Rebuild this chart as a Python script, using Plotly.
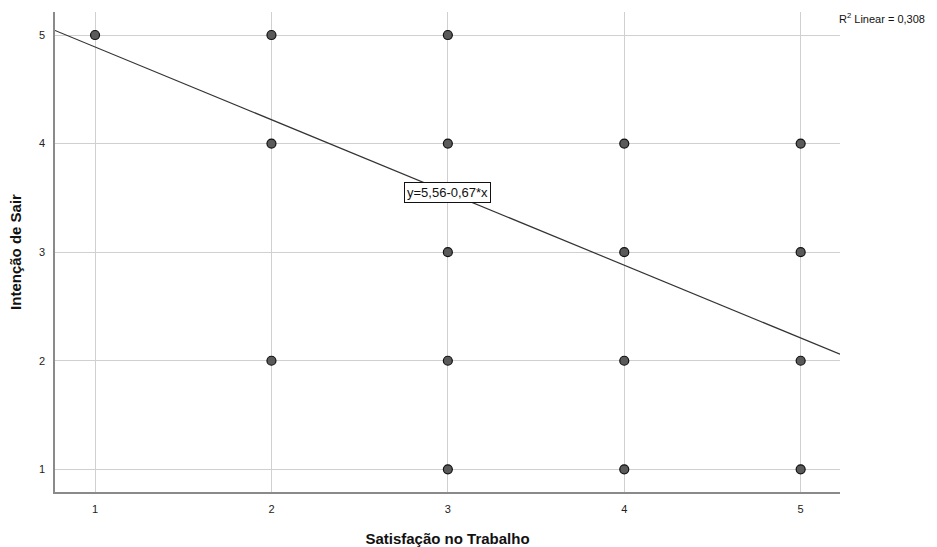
import plotly.graph_objects as go

satisfacao = [1, 2, 2, 2, 3, 3, 3, 3, 3, 4, 4, 4, 4, 5, 5, 5, 5]
intencao = [5, 5, 4, 2, 5, 4, 3, 2, 1, 4, 3, 2, 1, 4, 3, 2, 1]
intercept = 5.56
slope = -0.67
r2 = "0,308"
x_range = [0.773, 5.223]
y_range = [0.791, 5.212]
ticks = [1, 2, 3, 4, 5]

font_family = "Arial, Liberation Sans, sans-serif"

fig = go.Figure()
fig.add_trace(go.Scatter(
    x=x_range, y=[intercept + slope * v for v in x_range],
    mode="lines", line=dict(color="#333333", width=1.2),
    hoverinfo="skip", showlegend=False))
fig.add_trace(go.Scatter(
    x=satisfacao, y=intencao, mode="markers",
    marker=dict(size=9, color="#5a5a5a", line=dict(color="#111111", width=1.2)),
    showlegend=False))

fig.add_annotation(x=3, y=3.55, xref="x", yref="y",
                   text="y=5,56-0,67*x", showarrow=False,
                   font=dict(family=font_family, size=13, color="#111111"),
                   bgcolor="white", bordercolor="#111111", borderwidth=1, borderpad=2)
fig.add_annotation(x=1, y=1, xref="paper", yref="paper", xanchor="left", yanchor="top",
                   xshift=-3, yshift=3,
                   text="R<sup>2</sup> Linear = " + r2, showarrow=False,
                   font=dict(family=font_family, size=11, color="#111111"))

fig.update_layout(
    width=937, height=547,
    margin=dict(l=55, r=97, t=12, b=55),
    paper_bgcolor="white", plot_bgcolor="white",
    font=dict(family=font_family, color="#222222"),
    xaxis=dict(range=x_range, tickvals=ticks, showgrid=True, gridcolor="#d0d0d0", gridwidth=1.3,
               showline=True, linecolor="#8a8a8a", linewidth=1.5, zeroline=False, automargin=False,
               tickfont=dict(size=11), ticks="", ticklabelstandoff=6,
               title=dict(text="<b>Satisfação no Trabalho</b>", font=dict(size=15, color="#111111"), standoff=22)),
    yaxis=dict(range=y_range, tickvals=ticks, showgrid=True, gridcolor="#d0d0d0", gridwidth=1.3,
               showline=True, linecolor="#8a8a8a", linewidth=1.5, zeroline=False, automargin=False,
               tickfont=dict(size=11), ticks="", ticklabelstandoff=6,
               title=dict(text="<b>Intenção de Sair</b>", font=dict(size=15, color="#111111"), standoff=14)),
)

fig.write_html("out.html", config={"displayModeBar": False},
               post_script="document.body.style.margin='0';document.body.style.overflow='hidden';")
